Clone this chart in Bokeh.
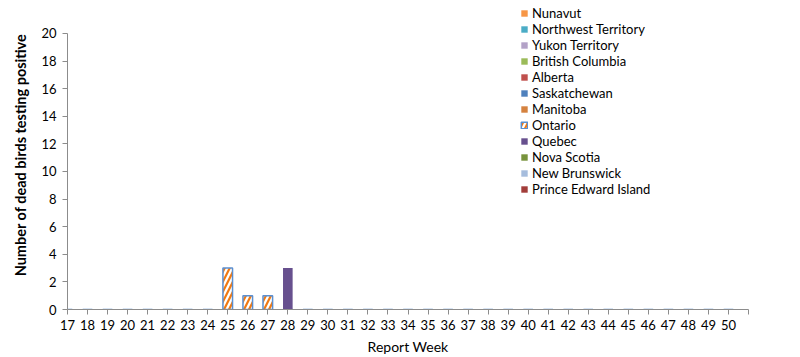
from bokeh.plotting import figure
from bokeh.models import Range1d, FixedTicker, Legend, LegendItem
from bokeh.embed import file_html
from bokeh.resources import INLINE

weeks = list(range(17, 51))
provinces = ["Nunavut", "Northwest Territory", "Yukon Territory", "British Columbia",
             "Alberta", "Saskatchewan", "Manitoba", "Ontario", "Quebec",
             "Nova Scotia", "New Brunswick", "Prince Edward Island"]
colors = ["#F79646", "#4BACC6", "#B3A2C7", "#9BBB59", "#C0504D", "#4F81BD",
          "#D5823F", "#FFFFFF", "#67508E", "#77933C", "#A6BDDD", "#A23D3A"]

ontario = {25: 3, 26: 1, 27: 1}
quebec = {28: 3}

data = {"week": weeks}
for prov in provinces:
    data[prov] = [0] * len(weeks)
data["Ontario"] = [ontario.get(w, 0) for w in weeks]
data["Quebec"] = [quebec.get(w, 0) for w in weeks]

FONT = "Lato"

# frame spans full top; axis drawn only 0..20 (20 lands at y=33px)
y_top = 310 / (277 / 20)

p = figure(width=800, height=357, output_backend="svg", toolbar_location=None,
           x_range=Range1d(17, 51), y_range=Range1d(0, y_top),
           min_border_left=67, min_border_right=52, min_border_top=0, min_border_bottom=47)
p.outline_line_color = None
p.xgrid.grid_line_color = None
p.ygrid.grid_line_color = None

renderers = p.vbar_stack(provinces, x="week", width=0.48, source=data,
                         fill_color=colors, line_color=None)
for r, prov in zip(renderers, provinces):
    if prov == "Ontario":
        r.glyph.line_color = "#5B8FD0"
        r.glyph.line_width = 1.5
        r.glyph.hatch_pattern = "/"
        r.glyph.hatch_color = "#F07A14"
        r.glyph.hatch_scale = 10
        r.glyph.hatch_weight = 2.2

items = [LegendItem(label=prov, renderers=[r]) for prov, r in zip(provinces, renderers)]
legend = Legend(items=items, location=(453, 112), padding=0, margin=0,
                spacing=0, label_height=15, glyph_height=8, glyph_width=8,
                label_standoff=4, border_line_color=None, background_fill_alpha=0,
                label_text_font=FONT, label_text_font_size="13px",
                label_text_color="#000000")
p.add_layout(legend, "center")

p.xaxis.ticker = FixedTicker(ticks=list(range(17, 52)))
p.xaxis.major_label_overrides = {51: ""}
p.yaxis.ticker = FixedTicker(ticks=list(range(0, 21, 2)))
p.yaxis.bounds = (0, 20)

for ax in (p.xaxis[0], p.yaxis[0]):
    ax.axis_line_color = "#8C8C8C"
    ax.major_tick_line_color = "#8C8C8C"
    ax.major_tick_out = 5
    ax.major_tick_in = 0
    ax.minor_tick_line_color = None
    ax.major_label_text_font = FONT
    ax.major_label_text_font_size = "13px"
    ax.major_label_text_color = "#000000"
    ax.axis_label_text_font = FONT
    ax.axis_label_text_color = "#000000"
    ax.axis_label_text_font_style = "normal"

p.xaxis.axis_label = "Report Week"
p.xaxis.axis_label_text_font_size = "14px"
p.xaxis.major_label_standoff = 5
p.xaxis.axis_label_standoff = 5

p.yaxis.axis_label = "Number of dead birds testing positive"
p.yaxis.axis_label_text_font_size = "14.5px"
p.yaxis.axis_label_text_font_style = "bold"
p.yaxis.major_label_standoff = 6
p.yaxis.axis_label_standoff = 9

open("out.html", "w").write(file_html(p, INLINE))
